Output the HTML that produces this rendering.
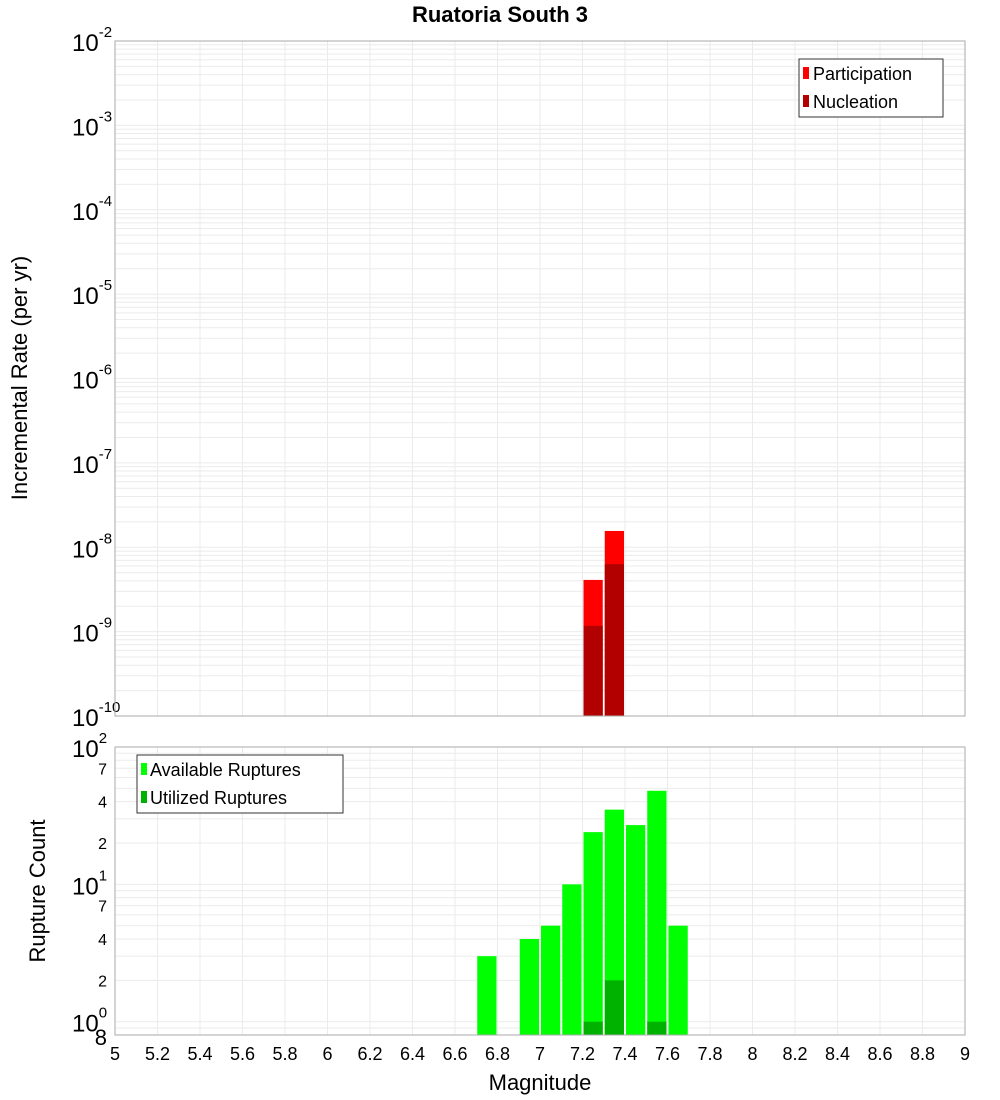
<!DOCTYPE html>
<html><head><meta charset="utf-8"><style>
body{margin:0;background:#fff;}
svg{display:block;font-family:"Liberation Sans","DejaVu Sans",sans-serif;}
</style></head><body>
<svg id="chart" width="1000" height="1100" xmlns="http://www.w3.org/2000/svg">
<text x="500" y="22" text-anchor="middle" font-size="22" font-weight="bold">Ruatoria South 3</text>
<g id="gtop"></g><g id="gbot"></g>
<text transform="translate(27,378) rotate(-90)" text-anchor="middle" font-size="22">Incremental Rate (per yr)</text>
<text transform="translate(45,891) rotate(-90)" text-anchor="middle" font-size="22">Rupture Count</text>
<text x="540" y="1090" text-anchor="middle" font-size="22">Magnitude</text>
</svg>
<script>
const rateBins = [7.2, 7.3];
const participation = [4.1e-9, 1.56e-8];
const nucleation = [1.17e-9, 6.3e-9];
const countBins = [6.7, 6.9, 7.0, 7.1, 7.2, 7.3, 7.4, 7.5, 7.6];
const available = [3, 4, 5, 10, 24, 35, 27, 48, 5];
const utilizedBins = [7.2, 7.3, 7.5];
const utilized = [1, 2, 1];
const xTicks = [5,5.2,5.4,5.6,5.8,6,6.2,6.4,6.6,6.8,7,7.2,7.4,7.6,7.8,8,8.2,8.4,8.6,8.8,9];

const NS = "http://www.w3.org/2000/svg";
const L = 115, R = 965;
const X = m => L + (m - 5) / 4 * (R - L);
const T0 = 41, T1 = 716, B0 = 747, B1 = 1035;
const YT = v => T0 + (-2 - Math.log10(v)) / 8 * (T1 - T0);
const bMin = Math.log10(0.8), bMax = 2;
const YB = v => B1 - (Math.log10(v) - bMin) / (bMax - bMin) * (B1 - B0);
function mk(parent, tag, attrs, text) {
  const e = document.createElementNS(NS, tag);
  for (const k in attrs) e.setAttribute(k, attrs[k]);
  if (text !== undefined) e.textContent = text;
  parent.appendChild(e); return e;
}
const gTop = document.getElementById('gtop'), gBot = document.getElementById('gbot');

for (let d = -10; d < -2; d++) for (let k = 1; k < 10; k++) {
  const y = YT(k * Math.pow(10, d));
  const ln = mk(gTop, 'line', {x1: L, x2: R, y1: y, y2: y, stroke: '#ebebeb', 'stroke-width': 1});
  
  
}
xTicks.forEach(m => {
  const l1 = mk(gTop, 'line', {x1: X(m), x2: X(m), y1: T0, y2: T1, stroke: '#ebebeb'});
  
  
  const l2 = mk(gBot, 'line', {x1: X(m), x2: X(m), y1: B0, y2: B1, stroke: '#ebebeb'});
  
  
  const t = mk(gBot, 'text', {x: X(m), y: 1060, 'text-anchor': 'middle', 'font-size': 18}, String(m));
  
  
});
for (let d = -10; d <= -2; d++) {
  const y = YT(Math.pow(10, d));
  const t = mk(gTop, 'text', {x: 72, y: y + 10, 'font-size': 24});
  
  
  mk(t, 'tspan', {}, '10');
  mk(t, 'tspan', {dy: -14, 'font-size': 15}, String(d));
}
rateBins.forEach((m, i) => {
  const x = X(m) + 1, w = X(m + 0.1) - X(m) - 2;
  const b1 = mk(gTop, 'rect', {x: x, y: YT(participation[i]), width: w, height: T1 - YT(participation[i]), fill: '#ff0000'});
  
  
  const b2 = mk(gTop, 'rect', {x: x, y: YT(nucleation[i]), width: w, height: T1 - YT(nucleation[i]), fill: '#b20000'});
  
  
});
const f1 = mk(gTop, 'rect', {x: L, y: T0, width: R - L, height: T1 - T0, fill: 'none', stroke: '#aaa'});


const lg = mk(gTop, 'g', {});


mk(lg, 'rect', {x: 799, y: 59, width: 144, height: 58, fill: '#fff', stroke: '#333'});
mk(lg, 'rect', {x: 803, y: 67, width: 6, height: 12, fill: '#ff0000'});
mk(lg, 'text', {x: 813, y: 80, 'font-size': 18}, 'Participation');
mk(lg, 'rect', {x: 803, y: 95, width: 6, height: 12, fill: '#b20000'});
mk(lg, 'text', {x: 813, y: 108, 'font-size': 18}, 'Nucleation');

[0.8,0.9,1,2,3,4,5,6,7,8,9,10,20,30,40,50,60,70,80,90,100].forEach(v => {
  const ln = mk(gBot, 'line', {x1: L, x2: R, y1: YB(v), y2: YB(v), stroke: '#ebebeb'});
  
  
});
[[1,'0'],[10,'1'],[100,'2']].forEach(([v, e]) => {
  const t = mk(gBot, 'text', {x: 72, y: YB(v) + 10, 'font-size': 24});
  
  
  mk(t, 'tspan', {}, '10');
  mk(t, 'tspan', {dy: -14, 'font-size': 15}, e);
});
[[0.8,'8'],[2,'2'],[4,'4'],[7,'7'],[20,'2'],[40,'4'],[70,'7']].forEach(([v, s]) => {
  const t = mk(gBot, 'text', {x: 107, y: YB(v) + 6 + (v === 0.8 ? 4 : 0), 'text-anchor': 'end', 'font-size': v === 0.8 ? 22 : 16}, s);
  
  
});
countBins.forEach((m, i) => {
  const x = X(m) + 1, w = X(m + 0.1) - X(m) - 2;
  const b = mk(gBot, 'rect', {x: x, y: YB(available[i]), width: w, height: B1 - YB(available[i]), fill: '#00ff00'});
  
  
});
utilizedBins.forEach((m, i) => {
  const x = X(m) + 1, w = X(m + 0.1) - X(m) - 2;
  const b = mk(gBot, 'rect', {x: x, y: YB(utilized[i]), width: w, height: B1 - YB(utilized[i]), fill: '#00b200'});
  
  
});
const f2 = mk(gBot, 'rect', {x: L, y: B0, width: R - L, height: B1 - B0, fill: 'none', stroke: '#aaa'});


const lg2 = mk(gBot, 'g', {});


mk(lg2, 'rect', {x: 137, y: 755, width: 206, height: 58, fill: '#fff', stroke: '#333'});
mk(lg2, 'rect', {x: 141, y: 763, width: 6, height: 12, fill: '#00ff00'});
mk(lg2, 'text', {x: 150, y: 776, 'font-size': 18}, 'Available Ruptures');
mk(lg2, 'rect', {x: 141, y: 791, width: 6, height: 12, fill: '#00b200'});
mk(lg2, 'text', {x: 150, y: 804, 'font-size': 18}, 'Utilized Ruptures');
</script>
</body></html>
